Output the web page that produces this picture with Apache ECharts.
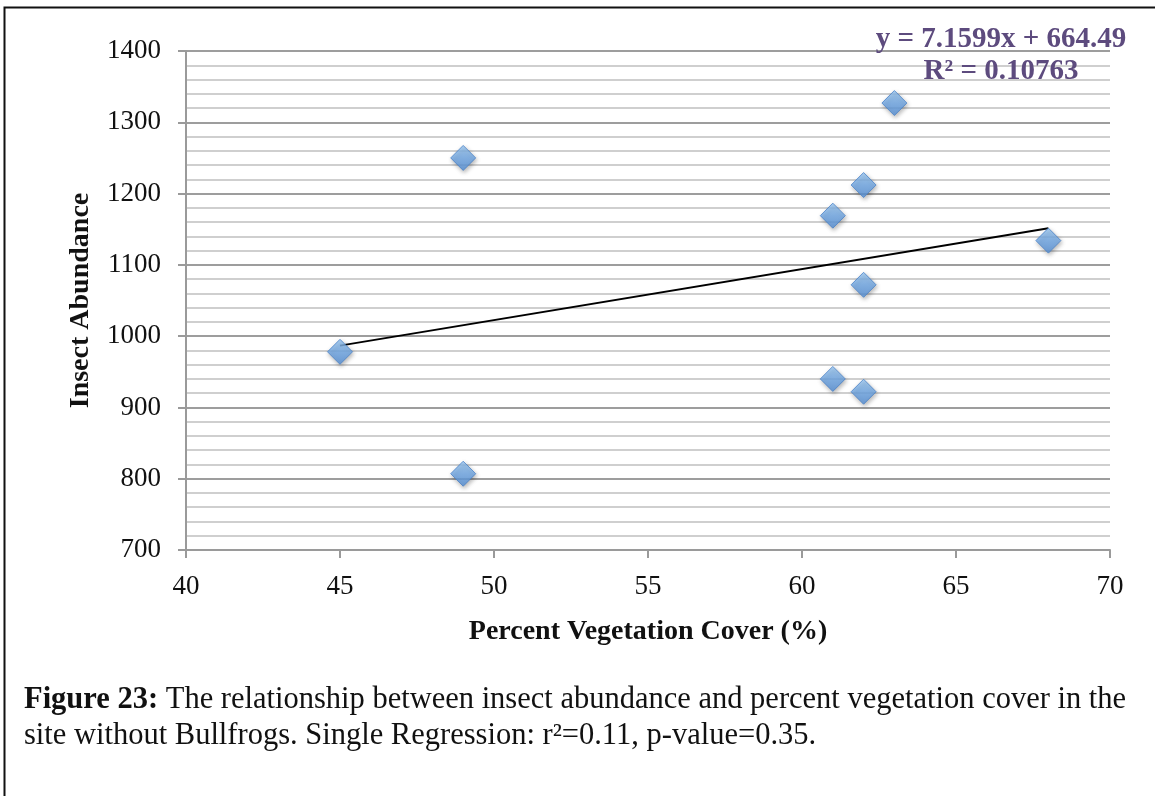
<!DOCTYPE html>
<html>
<head>
<meta charset="utf-8">
<script src="https://cdn.jsdelivr.net/npm/echarts@6/dist/echarts.min.js"></script>
<style>
html,body{margin:0;padding:0;background:#fff;}
#chart{width:1155px;height:796px;}
</style>
</head>
<body>
<div id="chart"></div>
<script>
// Data
const vegCover = [45, 49, 49, 63, 62, 61, 68, 62, 61, 62];
const insectAbundance = [978, 1250, 807, 1327, 1212, 1169, 1134, 1072, 940, 922];
// Trendline end points (as drawn in the reference)
const trendX = [45, 68];
const trendY = [986.7, 1151.3];
const xTicks = [40, 45, 50, 55, 60, 65, 70];
const yTicks = [700, 800, 900, 1000, 1100, 1200, 1300, 1400];
const equationText = 'y = 7.1599x + 664.49';
const r2Text = 'R² = 0.10763';
const xTitle = 'Percent Vegetation Cover (%)';
const yTitle = 'Insect Abundance';
const captionBold = 'Figure 23:';
const captionLine1 = ' The relationship between insect abundance and percent vegetation cover in the';
const captionLine2 = 'site without Bullfrogs. Single Regression: r²=0.11, p-value=0.35.';

const chart = echarts.init(document.getElementById('chart'), null, {renderer: 'canvas'});
const serif = '"Liberation Serif", "DejaVu Serif", serif';

const option = {
  animation: false,
  backgroundColor: '#ffffff',
  grid: {left: 186, right: 45, top: 51, bottom: 246, containLabel: false},
  xAxis: {
    type: 'value',
    min: xTicks[0], max: xTicks[xTicks.length - 1], interval: 5,
    axisLine: {show: true, onZero: false, lineStyle: {color: '#9a9a9a', width: 2}},
    axisTick: {show: true, inside: false, length: 8, lineStyle: {color: '#9a9a9a', width: 2}},
    axisLabel: {color: '#111', fontFamily: serif, fontSize: 27, margin: 23, formatter: v => String(v)},
    splitLine: {show: false},
    name: xTitle, nameLocation: 'middle', nameGap: 68,
    nameTextStyle: {color: '#111', fontFamily: serif, fontSize: 28, fontWeight: 'bold'}
  },
  yAxis: {
    type: 'value',
    min: yTicks[0], max: yTicks[yTicks.length - 1], interval: 100,
    axisLine: {show: true, onZero: false, lineStyle: {color: '#9a9a9a', width: 2}},
    axisTick: {show: true, inside: false, length: 8, lineStyle: {color: '#9a9a9a', width: 2}},
    axisLabel: {color: '#111', fontFamily: serif, fontSize: 27, margin: 25, formatter: v => String(v)},
    splitLine: {show: true, lineStyle: {color: '#9d9d9d', width: 2}},
    minorTick: {show: false, splitNumber: 5},
    minorSplitLine: {show: true, lineStyle: {color: '#cfcfcf', width: 2}},
    name: yTitle, nameLocation: 'middle', nameGap: 91, nameRotate: 90,
    nameTextStyle: {color: '#111', fontFamily: serif, fontSize: 28, fontWeight: 'bold'}
  },
  series: [
    {
      type: 'line',
      data: trendX.map((x, i) => [x, trendY[i]]),
      showSymbol: false,
      symbol: 'none',
      lineStyle: {color: '#000', width: 2},
      z: 3
    },
    {
      type: 'scatter',
      data: vegCover.map((x, i) => [x, insectAbundance[i]]),
      symbol: 'diamond',
      symbolSize: [25, 25],
      itemStyle: {
        color: new echarts.graphic.LinearGradient(0, 0, 0, 1, [
          {offset: 0, color: '#9ccaf5'},
          {offset: 0.5, color: '#72aae8'},
          {offset: 1, color: '#5590d8'}
        ]),
        borderColor: '#4a82c8',
        borderWidth: 1,
        shadowBlur: 4,
        shadowOffsetX: 1,
        shadowOffsetY: 2,
        shadowColor: 'rgba(0,0,0,0.35)'
      },
      z: 4
    }
  ],
  graphic: [
    {
      type: 'rect', silent: true, z: 100,
      shape: {x: 4.5, y: 7.5, width: 1300, height: 1000},
      style: {fill: null, stroke: '#111', lineWidth: 2}
    },
    {
      type: 'text', x: 1001, y: 40, z: 101,
      style: {text: equationText, fill: '#5d4b7e', font: 'bold 29px ' + serif, align: 'center', verticalAlign: 'middle'}
    },
    {
      type: 'text', x: 1001, y: 72, z: 101,
      style: {text: r2Text, fill: '#5d4b7e', font: 'bold 29px ' + serif, align: 'center', verticalAlign: 'middle'}
    },
    {
      type: 'text', x: 24, y: 682, z: 101,
      style: {
        text: '{b|' + captionBold + '}{n|' + captionLine1 + '}\n{n|' + captionLine2 + '}',
        rich: {
          b: {fontFamily: serif, fontSize: 30.5, fontWeight: 'bold', fill: '#111', lineHeight: 36},
          n: {fontFamily: serif, fontSize: 30.5, fill: '#111', lineHeight: 36}
        }
      }
    }
  ]
};
chart.setOption(option);
</script>
</body>
</html>
